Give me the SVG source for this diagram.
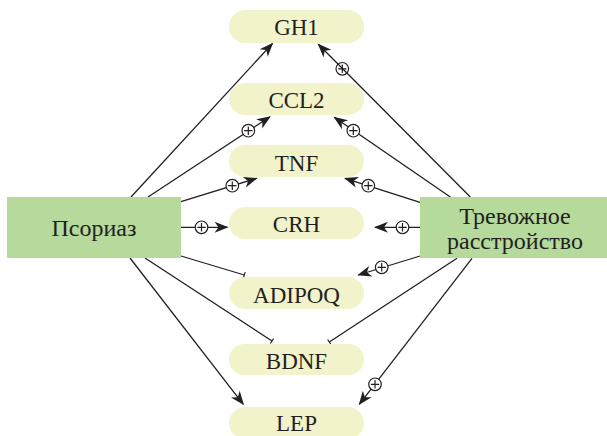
<svg xmlns="http://www.w3.org/2000/svg" width="607" height="436" viewBox="0 0 607 436">
<style>
.gene{fill:#F2F3CB;}
.dis{fill:#B6D99C;}
.lbl{font-family:"Liberation Serif","Times New Roman",serif;font-size:23px;fill:#231F20;text-anchor:middle;}
.dlbl{font-family:"Liberation Serif","Times New Roman",serif;font-size:24px;fill:#231F20;text-anchor:middle;}
.edge{stroke:#231F20;stroke-width:1.3;fill:none;}
</style>
<defs>
<marker id="arr" markerUnits="userSpaceOnUse" markerWidth="16" markerHeight="14" viewBox="-14 -7 16 14" refX="0" refY="0" orient="auto">
<path d="M1,0 L-13,-5.5 L-9,0 L-13,5.5 Z" fill="#231F20"/>
</marker>
<marker id="bar" markerUnits="userSpaceOnUse" markerWidth="4" markerHeight="10" viewBox="-2 -5 4 10" refX="0" refY="0" orient="auto">
<path d="M0,-3 L0,3" stroke="#231F20" stroke-width="1.2"/>
</marker>
<g id="plus">
<circle cx="0" cy="0" r="6.3" fill="#ffffff" stroke="#231F20" stroke-width="1.2"/>
<path d="M-4.2,0 H4.2 M0,-4.2 V4.2" stroke="#231F20" stroke-width="1.2" fill="none"/>
</g>
<g id="plusopen">
<circle cx="0" cy="0" r="6.3" fill="none" stroke="#231F20" stroke-width="1.2"/>
<path d="M-4.2,0 H4.2 M0,-4.2 V4.2" stroke="#231F20" stroke-width="1.2" fill="none"/>
</g>
</defs>

<g id="connectors">
<line class="edge" x1="131" y1="197" x2="272.5" y2="43.5" marker-end="url(#arr)"/>
<line class="edge" x1="148" y1="197" x2="270" y2="116.7" marker-end="url(#arr)"/>
<line class="edge" x1="181" y1="201.7" x2="256.7" y2="178.3" marker-end="url(#arr)"/>
<line class="edge" x1="181" y1="227.3" x2="227.5" y2="227.3" stroke-width="2" marker-end="url(#arr)"/>
<line class="edge" x1="181" y1="256" x2="244.3" y2="275" marker-end="url(#bar)"/>
<line class="edge" x1="145" y1="258" x2="272" y2="341" marker-end="url(#bar)"/>
<line class="edge" x1="130" y1="258" x2="243.3" y2="404.3" marker-end="url(#arr)"/>
<line class="edge" x1="470.3" y1="197" x2="318.3" y2="44.3" marker-end="url(#arr)"/>
<line class="edge" x1="450.3" y1="197" x2="334.3" y2="117.3" marker-end="url(#arr)"/>
<line class="edge" x1="420" y1="202.3" x2="345" y2="178.3" marker-end="url(#arr)"/>
<line class="edge" x1="420" y1="227.3" x2="375" y2="227.3" stroke-width="2" marker-end="url(#arr)"/>
<line class="edge" x1="420" y1="256" x2="358.3" y2="275" marker-end="url(#arr)"/>
<line class="edge" x1="457" y1="258.3" x2="329.3" y2="342" marker-end="url(#bar)"/>
<line class="edge" x1="472" y1="258.3" x2="359.3" y2="404.3" marker-end="url(#arr)"/>
<use href="#plus" x="248.3" y="130.7"/>
<use href="#plus" x="232.3" y="185.7"/>
<use href="#plus" x="201.5" y="227.3"/>
<use href="#plus" x="353.3" y="130.7"/>
<use href="#plus" x="368.3" y="185.7"/>
<use href="#plus" x="402.5" y="227.3"/>
<use href="#plus" x="381.7" y="267.3"/>
<use href="#plus" x="375" y="384.3"/>
<use href="#plusopen" x="342.3" y="68.8"/>
</g>

<g id="node-psoriasis">
<rect class="dis" x="7" y="197" width="174" height="61"/>
<text class="dlbl" x="94" y="236">Псориаз</text>
</g>
<g id="node-anxiety">
<rect class="dis" x="420" y="197" width="187" height="61"/>
<text class="dlbl" x="515" y="224">Тревожное</text>
<text class="dlbl" x="515" y="249">расстройство</text>
</g>
<g id="node-gh1">
<rect class="gene" x="229" y="10" width="135" height="33" rx="16"/>
<text class="lbl" x="296.5" y="35">GH1</text>
</g>
<g id="node-ccl2">
<rect class="gene" x="229" y="83" width="135" height="32" rx="16"/>
<text class="lbl" x="296.5" y="108">CCL2</text>
</g>
<g id="node-tnf">
<rect class="gene" x="229" y="145" width="135" height="32" rx="16"/>
<text class="lbl" x="296.5" y="170.5">TNF</text>
</g>
<g id="node-crh">
<rect class="gene" x="229" y="207" width="135" height="32" rx="16"/>
<text class="lbl" x="296.5" y="231.5">CRH</text>
</g>
<g id="node-adipoq">
<rect class="gene" x="229" y="277" width="135" height="32" rx="16"/>
<text class="lbl" x="296.5" y="302.5">ADIPOQ</text>
</g>
<g id="node-bdnf">
<rect class="gene" x="229" y="344" width="135" height="31" rx="15.5"/>
<text class="lbl" x="296.5" y="368.5">BDNF</text>
</g>
<g id="node-lep">
<rect class="gene" x="229" y="407" width="135" height="32" rx="16"/>
<text class="lbl" x="296.5" y="431">LEP</text>
</g>
</svg>
